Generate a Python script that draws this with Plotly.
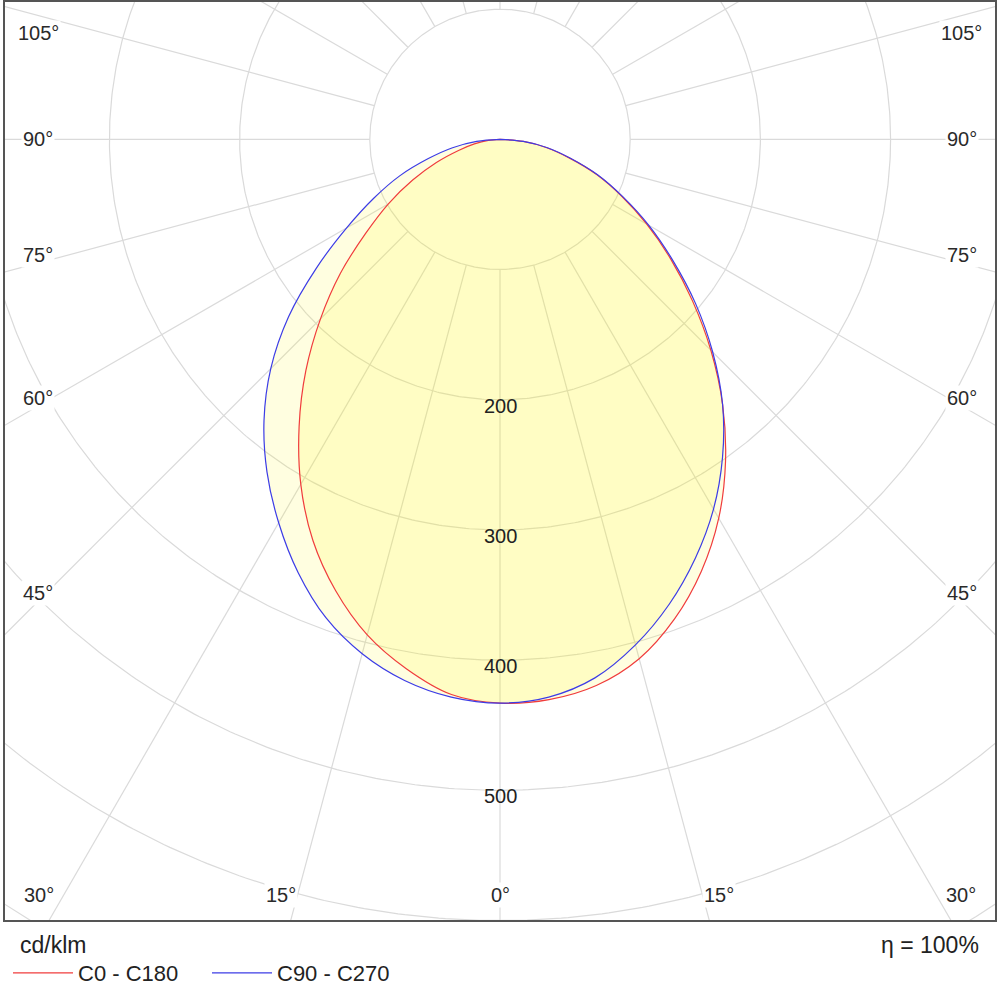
import numpy as np
import plotly.graph_objects as go

# gamma angles (deg from nadir) and intensities in cd/klm
gamma = [0, 5, 10, 15, 20, 25, 30, 35, 40, 45, 50, 55, 60, 65, 70, 75, 80, 85, 90]
c0 = [433, 432, 426, 413, 392, 366, 336, 302, 266, 229, 193, 160, 130, 103, 79, 55, 36, 18, 0]
c180 = [433, 428, 413, 394, 369, 340, 306, 269, 232, 195, 160, 126, 99, 74, 52, 33, 20, 9, 0]
c90 = [433, 430, 420, 402, 380, 355, 328, 298, 266, 231, 196, 162, 132, 104, 80, 56, 37, 18, 0]
c270 = [433, 430, 422, 409, 391, 367, 340, 312, 282, 249, 212, 172, 136, 107, 82, 57, 37, 18, 0]

rings = [100, 200, 300, 400, 500, 600, 700, 800]
ring_labels = [200, 300, 400, 500]
side_labels = [45, 60, 75, 90, 105]
bottom_labels = [0, 15, 30]

PX = 1.302          # pixels per cd/klm
XR = 380.2
YTOP, YBOT = 105.5, -599.6
FONT = "Liberation Sans, Arial, sans-serif"


def outline(right, left):
    g = np.radians(gamma)
    r = np.array(right, float)
    l = np.array(left, float)
    x = np.concatenate([r * np.sin(g), (-l * np.sin(g))[::-1]])
    y = np.concatenate([-r * np.cos(g), (-l * np.cos(g))[::-1]])
    return x, y


fig = go.Figure()

# grid: circles + spokes
t = np.linspace(0, 2 * np.pi, 721)
gx, gy = [], []
for r in rings:
    gx += list(r * np.cos(t)) + [None]
    gy += list(r * np.sin(t)) + [None]
for a in range(0, 360, 15):
    ar = np.radians(a)
    gx += [100 * np.sin(ar), 1200 * np.sin(ar), None]
    gy += [-100 * np.cos(ar), -1200 * np.cos(ar), None]
fig.add_trace(go.Scatter(x=gx, y=gy, mode="lines", line=dict(color="#dadada", width=1.2),
                         hoverinfo="skip", showlegend=False))

curves = [("C0 - C180", c0, c180, "#f03c3c"), ("C90 - C270", c90, c270, "#3c3ce6")]

for name, right, left, col in curves:
    x, y = outline(right, left)
    fig.add_trace(go.Scatter(x=x, y=y, mode="lines", fill="toself",
                             fillcolor="rgba(255,245,0,0.12)", line=dict(width=0, shape="spline"),
                             hoverinfo="skip", showlegend=False))

for name, right, left, col in curves:
    x, y = outline(right, left)
    fig.add_trace(go.Scatter(x=x, y=y, mode="lines", name=name,
                             line=dict(color=col, width=1.2, shape="spline")))

ann = []
for v in ring_labels:
    ann.append(dict(x=0, y=-v, text=str(v), showarrow=False, yshift=-6,
                    font=dict(size=20, color="#222", family=FONT)))

# angle labels along the frame
for a in side_labels:
    ar = np.radians(a)
    dx = 462
    dy = dx / np.tan(ar)           # pixels below centre
    py = 139.3 + dy - (8 if a < 90 else 0)
    py = max(py, 33)
    for s in (-1, 1):
        ann.append(dict(x=s * dx / PX, y=(139.3 - py) / PX, text=f"{a}°", showarrow=False,
                        bgcolor="white", font=dict(size=20, color="#2a2a2a", family=FONT)))
for a in bottom_labels:
    ar = np.radians(a)
    dx = (920 - 139.3) * np.tan(ar)
    if a > 0:
        dx = min(dx + 10, 462)
    py = 895
    sides = (-1, 1) if a > 0 else (1,)
    for s in sides:
        ann.append(dict(x=s * dx / PX, y=(139.3 - py) / PX, text=f"{a}°", showarrow=False,
                        bgcolor="white", font=dict(size=20, color="#2a2a2a", family=FONT)))

ann.append(dict(xref="paper", yref="paper", x=(18 - 5) / 990, y=(920 - 945) / 918,
                xanchor="left", yanchor="middle", text="cd/klm", showarrow=False,
                font=dict(size=23, color="#222", family=FONT)))
ann.append(dict(xref="paper", yref="paper", x=(981 - 5) / 990, y=(920 - 945) / 918,
                xanchor="right", yanchor="middle", text="η = 100%", showarrow=False,
                font=dict(size=23, color="#222", family=FONT)))

fig.update_layout(
    width=1000, height=987,
    margin=dict(l=5, r=5, t=2, b=67, autoexpand=False),
    paper_bgcolor="white", plot_bgcolor="white",
    xaxis=dict(range=[-XR, XR], showgrid=False, zeroline=False,
               showticklabels=False, ticks="", showline=True, mirror=True,
               linecolor="#555", linewidth=1.5, fixedrange=True),
    yaxis=dict(range=[YBOT, YTOP], showgrid=False, zeroline=False,
               showticklabels=False, ticks="", showline=True, mirror=True,
               linecolor="#555", linewidth=1.5, fixedrange=True),
    annotations=ann,
    showlegend=True,
    legend=dict(orientation="h", x=(8 - 5) / 990, y=(920 - 973) / 918,
                xanchor="left", yanchor="middle", entrywidth=124, entrywidthmode="pixels",
                itemwidth=60,
                font=dict(size=22, color="#222", family=FONT), bgcolor="rgba(0,0,0,0)"),
)

# page body has a default 8px margin; drop it so the figure sits at the window corner
fig.write_html("out.html", config={"displayModeBar": False},
               post_script="document.body.style.margin='0';")
